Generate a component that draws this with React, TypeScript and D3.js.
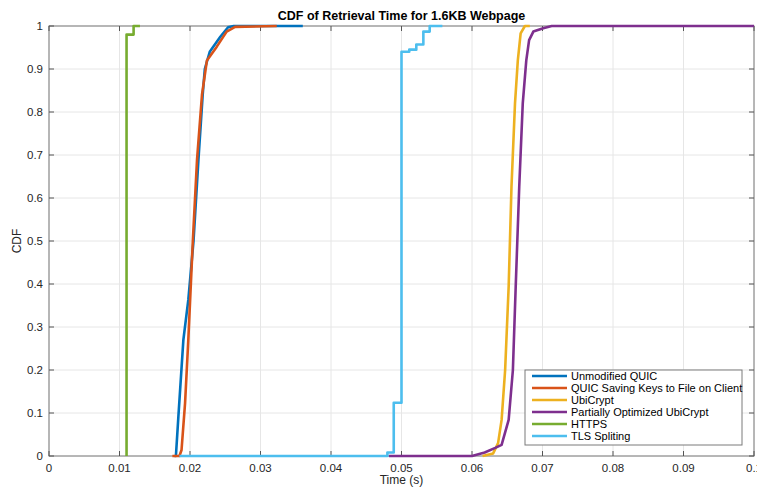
import React from 'react';
import * as d3 from 'd3';

// values
const xTicks = [0, 0.01, 0.02, 0.03, 0.04, 0.05, 0.06, 0.07, 0.08, 0.09, 0.1];
const yTicks = [0, 0.1, 0.2, 0.3, 0.4, 0.5, 0.6, 0.7, 0.8, 0.9, 1];

const quicX = [0.0178, 0.0180, 0.01835, 0.01906, 0.01976, 0.0205, 0.0212, 0.0218, 0.0221, 0.0228, 0.0243, 0.0254, 0.0262, 0.036];
const quicY = [0, 0, 0.091, 0.27, 0.363, 0.5, 0.69, 0.84, 0.9, 0.94, 0.975, 0.997, 1, 1];

const keysX = [0.0175, 0.0185, 0.0188, 0.0193, 0.01976, 0.0204, 0.021, 0.0217, 0.0224, 0.0238, 0.0252, 0.0264, 0.0323];
const keysY = [0, 0, 0.014, 0.123, 0.27, 0.5, 0.69, 0.84, 0.92, 0.952, 0.987, 0.998, 1];

const ubiX = [0.0615, 0.063, 0.0637, 0.0642, 0.0647, 0.0652, 0.0656, 0.0661, 0.0665, 0.0669, 0.0675, 0.0682];
const ubiY = [0, 0.006, 0.03, 0.084, 0.2, 0.394, 0.626, 0.82, 0.92, 0.983, 1, 1];

const partialX = [0.0482, 0.06, 0.0618, 0.0633, 0.0642, 0.0652, 0.0658, 0.0662, 0.0667, 0.0672, 0.0677, 0.0681, 0.0687, 0.0701, 0.0713, 0.1];
const partialY = [0, 0, 0.008, 0.019, 0.026, 0.084, 0.2, 0.394, 0.626, 0.82, 0.92, 0.967, 0.987, 0.995, 1, 1];

const httpsX = [0.011, 0.011, 0.012, 0.0129];
const httpsY = [0, 0.98, 1, 1];

const tlsX = [0.0185, 0.048, 0.0489, 0.05, 0.0511, 0.0521, 0.0531, 0.054, 0.0558];
const tlsY = [0, 0.008, 0.124, 0.94, 0.945, 0.957, 0.987, 1, 1];

const names = [
  'Unmodified QUIC',
  'QUIC Saving Keys to File on Client',
  'UbiCrypt',
  'Partially Optimized UbiCrypt',
  'HTTPS',
  'TLS Spliting',
];
const colors = ['#0072BD', '#D95319', '#EDB120', '#7E2F8E', '#77AC30', '#4DBEEE'];

const series = [
  { xs: quicX, ys: quicY, step: false },
  { xs: keysX, ys: keysY, step: false },
  { xs: ubiX, ys: ubiY, step: false },
  { xs: partialX, ys: partialY, step: false },
  { xs: httpsX, ys: httpsY, step: true },
  { xs: tlsX, ys: tlsY, step: true },
];

const W = 757;
const H = 487;
const margin = { top: 26, right: 3, bottom: 31, left: 49 };
const font = '"Liberation Sans", Arial, Helvetica, sans-serif';

export default function App() {
  const x = d3.scaleLinear().domain([0, 0.1]).range([margin.left, W - margin.right]);
  const y = d3.scaleLinear().domain([0, 1]).range([H - margin.bottom, margin.top]);
  const x0 = x(0), x1 = x(0.1), y0 = y(0), y1 = y(1);
  const tick = 5;

  const lineFor = (s: { xs: number[]; ys: number[]; step: boolean }) => {
    const pts: [number, number][] = s.xs.map((v, i) => [v, s.ys[i]]);
    return d3
      .line<[number, number]>()
      .x((d) => x(d[0]))
      .y((d) => y(d[1]))
      .curve(s.step ? d3.curveStepAfter : d3.curveLinear)(pts) || '';
  };

  const leg = { x: 525, y: 370, w: 217, h: 75 };

  return (
    <svg width={W} height={H} style={{ position: 'fixed', left: 0, top: 0, background: '#fff' }} fontFamily={font}>
      <rect x={0} y={0} width={W} height={H} fill="#fff" />
      {/* grid */}
      {xTicks.map((t) => (
        <line key={'gx' + t} x1={x(t)} x2={x(t)} y1={y0} y2={y1} stroke="#e6e6e6" strokeWidth={1} />
      ))}
      {yTicks.map((t) => (
        <line key={'gy' + t} x1={x0} x2={x1} y1={y(t)} y2={y(t)} stroke="#e6e6e6" strokeWidth={1} />
      ))}
      {/* box */}
      <rect x={x0} y={y1} width={x1 - x0} height={y0 - y1} fill="none" stroke="#7a7a7a" strokeWidth={1} />
      {/* ticks */}
      {xTicks.map((t) => (
        <g key={'tx' + t}>
          <line x1={x(t)} x2={x(t)} y1={y0} y2={y0 - tick} stroke="#555" />
          <line x1={x(t)} x2={x(t)} y1={y1} y2={y1 + tick} stroke="#555" />
          <text x={x(t)} y={y0 + 16} fontSize={11.5} fill="#262626" textAnchor="middle">
            {String(t)}
          </text>
        </g>
      ))}
      {yTicks.map((t) => (
        <g key={'ty' + t}>
          <line x1={x0} x2={x0 + tick} y1={y(t)} y2={y(t)} stroke="#555" />
          <line x1={x1} x2={x1 - tick} y1={y(t)} y2={y(t)} stroke="#555" />
          <text x={x0 - 6} y={y(t) + 4} fontSize={11.5} fill="#262626" textAnchor="end">
            {String(t)}
          </text>
        </g>
      ))}
      {/* lines */}
      {series.map((s, i) => (
        <path key={'s' + i} d={lineFor(s)} fill="none" stroke={colors[i]} strokeWidth={2.6} strokeLinejoin="round" />
      ))}
      {/* labels */}
      <text x={(x0 + x1) / 2} y={20} fontSize={12.5} fontWeight="bold" fill="#000" textAnchor="middle">
        CDF of Retrieval Time for 1.6KB Webpage
      </text>
      <text x={(x0 + x1) / 2} y={484} fontSize={12} fill="#262626" textAnchor="middle">
        Time (s)
      </text>
      <text transform={`translate(21,${(y0 + y1) / 2}) rotate(-90)`} fontSize={12} fill="#262626" textAnchor="middle">
        CDF
      </text>
      {/* legend */}
      <rect x={leg.x} y={leg.y} width={leg.w} height={leg.h} fill="#fff" stroke="#7a7a7a" strokeWidth={1} />
      {names.map((n, i) => {
        const cy = leg.y + 6 + i * 12;
        return (
          <g key={'l' + i}>
            <line x1={532} x2={567} y1={cy} y2={cy} stroke={colors[i]} strokeWidth={2.6} />
            <text x={571} y={cy + 4} fontSize={11} fill="#000">
              {n}
            </text>
          </g>
        );
      })}
    </svg>
  );
}
